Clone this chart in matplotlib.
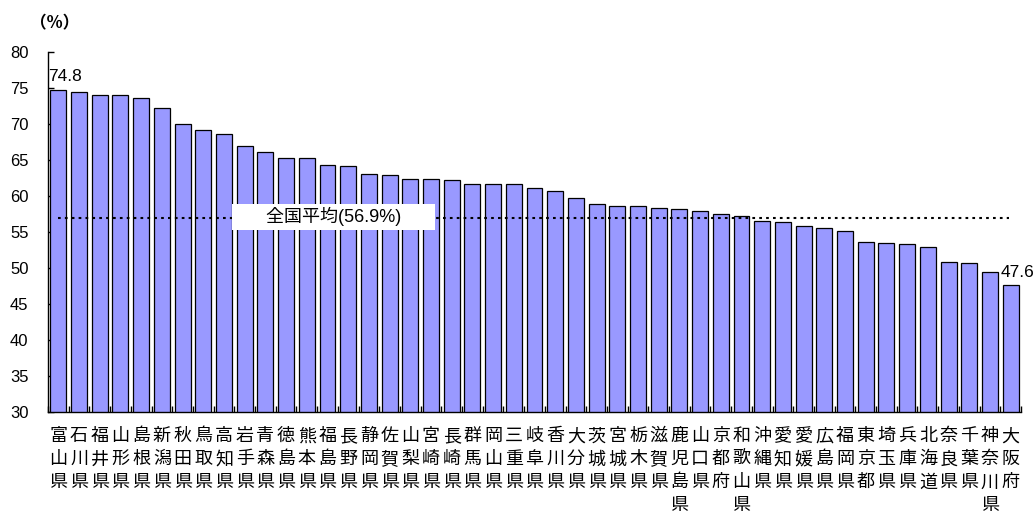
import matplotlib
matplotlib.use("Agg")
import matplotlib.pyplot as plt
import numpy as np

# prefecture share (%), sorted high to low
prefectures = [
    "富山県", "石川県", "福井県", "山形県", "島根県", "新潟県", "秋田県", "鳥取県",
    "高知県", "岩手県", "青森県", "徳島県", "熊本県", "福島県", "長野県", "静岡県",
    "佐賀県", "山梨県", "宮崎県", "長崎県", "群馬県", "岡山県", "三重県", "岐阜県",
    "香川県", "大分県", "茨城県", "宮城県", "栃木県", "滋賀県", "鹿児島県", "山口県",
    "京都府", "和歌山県", "沖縄県", "愛知県", "愛媛県", "広島県", "福岡県", "東京都",
    "埼玉県", "兵庫県", "北海道", "奈良県", "千葉県", "神奈川県", "大阪府",
]
values = [
    74.8, 74.5, 74.1, 74.1, 73.6, 72.3, 70.1, 69.2, 68.6, 67.0, 66.2, 65.3,
    65.3, 64.4, 64.2, 63.1, 63.0, 62.4, 62.4, 62.2, 61.7, 61.7, 61.7, 61.1,
    60.7, 59.8, 58.9, 58.7, 58.7, 58.4, 58.2, 58.0, 57.5, 57.3, 56.6, 56.4,
    55.8, 55.6, 55.1, 53.6, 53.5, 53.3, 52.9, 50.9, 50.7, 49.5, 47.6,
]
national_avg = 56.9
y_ticks = [30, 35, 40, 45, 50, 55, 60, 65, 70, 75, 80]

plt.rcParams["font.family"] = ["Liberation Sans", "Noto Sans CJK JP"]

fig = plt.figure(figsize=(10.33, 5.12), dpi=100)
ax = fig.add_axes([48 / 1033, 1 - 412 / 512, (1021 - 48) / 1033, (412 - 52.3) / 512])

x = np.arange(1, len(values) + 1)
ax.bar(x, values, width=0.77, bottom=0, color="#9999FF",
       edgecolor="black", linewidth=0.9, zorder=2)

ax.set_xlim(0.5, len(values) + 0.5)
ax.set_ylim(30, 80)
ax.set_yticks(y_ticks)
ax.tick_params(axis="y", direction="in", length=4, width=1, pad=14, labelsize=12)

ax.set_xticks(x)
ax.set_xticklabels(["\n".join(name) for name in prefectures],
                   family=["Noto Sans CJK JP"], fontsize=13, linespacing=1.36,
                   va="top")
ax.tick_params(axis="x", which="major", length=0, pad=11)
ax.set_xticks(np.arange(0.5, len(values) + 1, 1), minor=True)
ax.tick_params(axis="x", which="minor", direction="in", length=4, width=1)

for side in ("top", "right"):
    ax.spines[side].set_visible(False)
for side in ("left", "bottom"):
    ax.spines[side].set_linewidth(1.0)

# national average line and its label
ax.hlines(national_avg, 0.97, 46.9, colors="black", linewidth=1.5,
          linestyles=(0, (1.3, 2.0)), zorder=3)
ax.text(14.3, national_avg + 0.25, "      全国平均(56.9%)      ",
        ha="center", va="center", fontsize=13,
        family=["Liberation Sans", "Noto Sans CJK JP"],
        bbox=dict(boxstyle="square,pad=0.2", facecolor="white", edgecolor="none"),
        zorder=4)

# value labels on the first and last bar
for i in (0, len(values) - 1):
    ax.annotate(f"{values[i]:.1f}", xy=(x[i] - 0.5, values[i]),
                xytext=(0, 4), textcoords="offset points",
                ha="left", va="bottom", fontsize=12.5, annotation_clip=False)

fig.text(30 / 1033, 1 - 23 / 512, "（%）", ha="left", va="center",
         fontsize=12, fontweight="bold", family=["Noto Sans CJK JP"])

fig.savefig("out.png", dpi=100)
